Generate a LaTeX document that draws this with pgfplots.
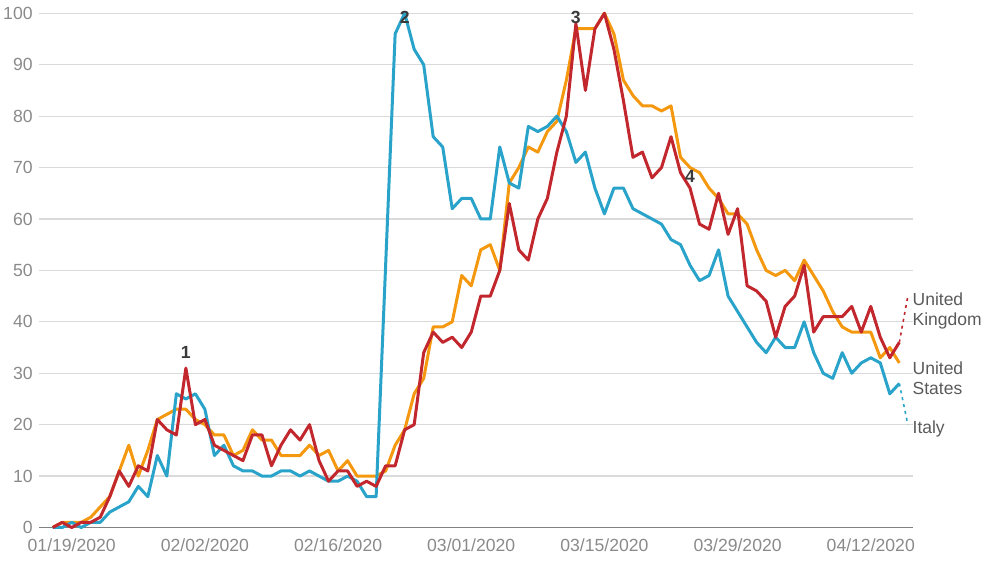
\documentclass[border=0pt]{standalone}
\usepackage{pgfplots}
\pgfplotsset{compat=1.18}
\usepackage{fontspec}
\setmainfont{Liberation Sans}
\definecolor{itblue}{HTML}{29A3C9}
\definecolor{usorange}{HTML}{F4980F}
\definecolor{ukred}{HTML}{C1272D}
\definecolor{tickgray}{HTML}{8A8A8A}
\definecolor{labgray}{HTML}{5A5A5A}
\definecolor{numgray}{HTML}{3A3A3A}
\definecolor{gridgray}{HTML}{DADADA}
\definecolor{axisgray}{HTML}{808080}
\begin{document}
\begin{tikzpicture}[x=1pt,y=1pt]
\path[use as bounding box] (0,0) rectangle (500,288.5);
\begin{axis}[
  at={(19.5pt,24.75pt)}, anchor=south west,
  scale only axis, width=437pt, height=257.1pt,
  xmin=-3.44, xmax=88.44, ymin=0, ymax=100,
  clip=false,
  axis line style={draw=none},
  xtick={0,14,...,84},
  xticklabels={01/19/2020,02/02/2020,02/16/2020,03/01/2020,03/15/2020,03/29/2020,04/12/2020},
  ytick={0,10,...,100},
  major tick length=0pt,
  ymajorgrids, grid style={gridgray, line width=0.6pt},
  tick label style={font=\fontsize{8.8}{10}\selectfont, text=tickgray},
  xticklabel style={anchor=north, inner sep=0pt, yshift=-5.25pt},
  yticklabel style={anchor=east, inner sep=0pt, xshift=-3pt},
  /pgf/number format/assume math mode=true,
  every axis plot/.append style={line width=1.5pt, line join=round, mark=none},
]
\draw[axisgray, line width=0.7pt] (axis cs:-3.44,0) -- (axis cs:88.44,0);
\addplot[usorange] coordinates {
(-2,0)(-1,1)(0,1)(1,1)(2,2)(3,4)(4,6)(5,11)(6,16)(7,10)(8,15)(9,21)(10,22)(11,23)(12,23)(13,21)(14,20)(15,18)(16,18)(17,14)(18,15)(19,19)(20,17)(21,17)(22,14)(23,14)(24,14)(25,16)(26,14)(27,15)(28,11)(29,13)(30,10)(31,10)(32,10)(33,11)(34,16)(35,19)(36,26)(37,29)(38,39)(39,39)(40,40)(41,49)(42,47)(43,54)(44,55)(45,50)(46,67)(47,70)(48,74)(49,73)(50,77)(51,79)(52,87)(53,97)(54,97)(55,97)(56,100)(57,96)(58,87)(59,84)(60,82)(61,82)(62,81)(63,82)(64,72)(65,70)(66,69)(67,66)(68,64)(69,61)(70,61)(71,59)(72,54)(73,50)(74,49)(75,50)(76,48)(77,52)(78,49)(79,46)(80,42)(81,39)(82,38)(83,38)(84,38)(85,33)(86,35)(87,32)
};
\addplot[itblue] coordinates {
(-2,0)(-1,0)(0,1)(1,0)(2,1)(3,1)(4,3)(5,4)(6,5)(7,8)(8,6)(9,14)(10,10)(11,26)(12,25)(13,26)(14,23)(15,14)(16,16)(17,12)(18,11)(19,11)(20,10)(21,10)(22,11)(23,11)(24,10)(25,11)(26,10)(27,9)(28,9)(29,10)(30,9)(31,6)(32,6)(33,51)(34,96)(35,100)(36,93)(37,90)(38,76)(39,74)(40,62)(41,64)(42,64)(43,60)(44,60)(45,74)(46,67)(47,66)(48,78)(49,77)(50,78)(51,80)(52,77)(53,71)(54,73)(55,66)(56,61)(57,66)(58,66)(59,62)(60,61)(61,60)(62,59)(63,56)(64,55)(65,51)(66,48)(67,49)(68,54)(69,45)(70,42)(71,39)(72,36)(73,34)(74,37)(75,35)(76,35)(77,40)(78,34)(79,30)(80,29)(81,34)(82,30)(83,32)(84,33)(85,32)(86,26)(87,28)
};
\addplot[ukred] coordinates {
(-2,0)(-1,1)(0,0)(1,1)(2,1)(3,2)(4,6)(5,11)(6,8)(7,12)(8,11)(9,21)(10,19)(11,18)(12,31)(13,20)(14,21)(15,16)(16,15)(17,14)(18,13)(19,18)(20,18)(21,12)(22,16)(23,19)(24,17)(25,20)(26,13)(27,9)(28,11)(29,11)(30,8)(31,9)(32,8)(33,12)(34,12)(35,19)(36,20)(37,34)(38,38)(39,36)(40,37)(41,35)(42,38)(43,45)(44,45)(45,50)(46,63)(47,54)(48,52)(49,60)(50,64)(51,73)(52,80)(53,98)(54,85)(55,97)(56,100)(57,93)(58,83)(59,72)(60,73)(61,68)(62,70)(63,76)(64,69)(65,66)(66,59)(67,58)(68,65)(69,57)(70,62)(71,47)(72,46)(73,44)(74,37)(75,43)(76,45)(77,51)(78,38)(79,41)(80,41)(81,41)(82,43)(83,38)(84,43)(85,37)(86,33)(87,36)
};
\addplot[ukred, dotted, line width=0.8pt] coordinates {(87,36) (87.9,45)};
\addplot[itblue, dotted, line width=0.8pt] coordinates {(87,28) (87.9,20)};
\begin{scope}[every node/.style={anchor=base west, inner sep=0pt, text=labgray, font=\fontsize{8.75}{10}\selectfont}]
\node at (axis cs:88.36,43.1) {United};
\node at (axis cs:88.36,39.2) {Kingdom};
\node at (axis cs:88.36,29.7) {United};
\node at (axis cs:88.36,25.8) {States};
\node at (axis cs:88.36,18.3) {Italy};
\end{scope}
\begin{scope}[every node/.style={anchor=base, inner sep=0pt, text=numgray, font=\fontsize{8.8}{10}\selectfont\bfseries}]
\node at (axis cs:12,32.8) {1};
\node at (axis cs:35,98.1) {2};
\node at (axis cs:53,98.1) {3};
\node at (axis cs:65,67) {4};
\end{scope}
\end{axis}
\end{tikzpicture}
\end{document}
